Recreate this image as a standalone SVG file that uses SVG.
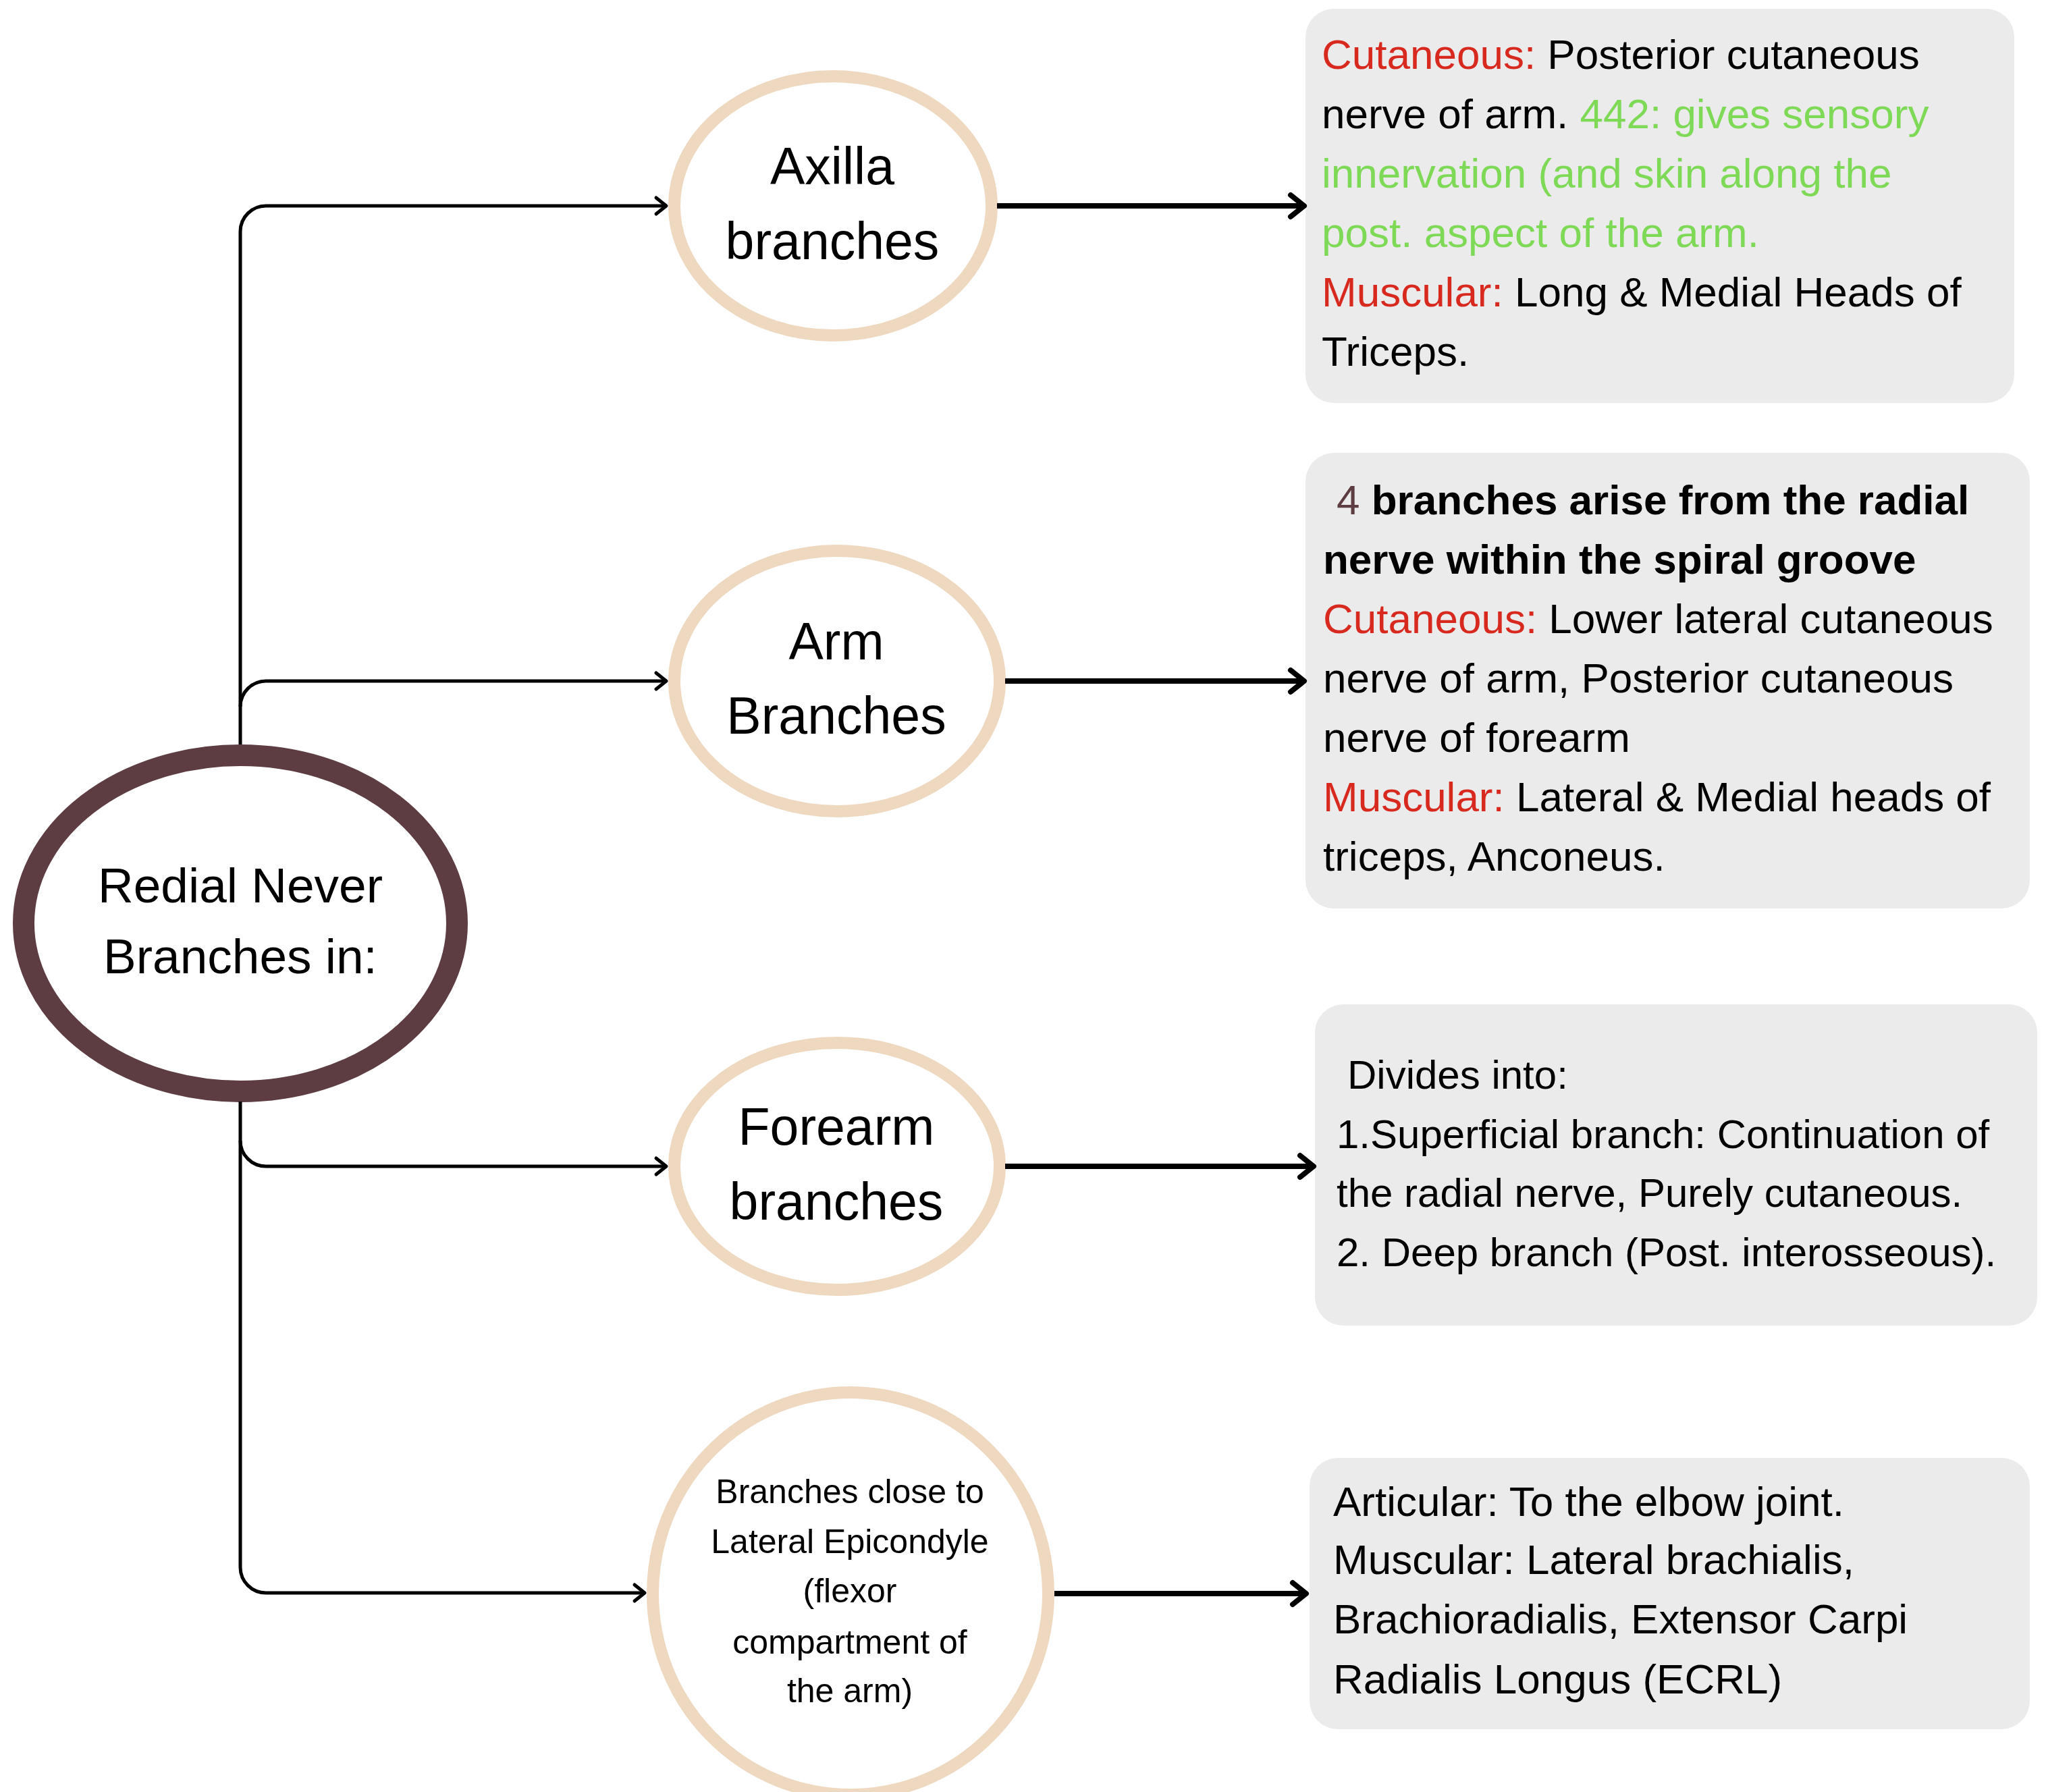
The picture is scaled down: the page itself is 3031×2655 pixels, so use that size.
<svg xmlns="http://www.w3.org/2000/svg" width="3031" height="2655" viewBox="0 0 3031 2655">
<style>
.t{font-family:"Liberation Sans",Arial,sans-serif;fill:#000}
.node{font-size:77px}
.box{font-size:62px}
.red{fill:#D8291F}
.grn{fill:#7ED957}
.brn{fill:#5D3D42}
.b{font-weight:bold}
.ring{fill:#fff;stroke:#EFD8C0;stroke-width:18}
.card{fill:#EBEBEB}
.thin{fill:none;stroke:#000;stroke-width:5}
.thick{fill:none;stroke:#000;stroke-width:8}
</style>
<defs>
<marker id="arrS" markerUnits="userSpaceOnUse" viewBox="-24 -20 30 40" refX="0" refY="0" markerWidth="30" markerHeight="40" orient="auto" overflow="visible">
<path d="M-15,-12 L0,0 L-15,12" fill="none" stroke="#000" stroke-width="5" stroke-linecap="round" stroke-linejoin="round"/>
</marker>
<marker id="arrL" markerUnits="userSpaceOnUse" viewBox="-30 -24 36 48" refX="0" refY="0" markerWidth="36" markerHeight="48" orient="auto" overflow="visible">
<path d="M-20,-16 L0,0 L-20,16" fill="none" stroke="#000" stroke-width="8" stroke-linecap="round" stroke-linejoin="round"/>
</marker>
</defs>
<rect width="3031" height="2655" fill="#fff"/>

<g id="node-root">
<ellipse cx="356" cy="1368" rx="321" ry="249" fill="#fff" stroke="#5D3D42" stroke-width="32"/>
<text class="t" font-size="73" text-anchor="middle"><tspan x="356" y="1337">Redial Never</tspan><tspan x="356" y="1442">Branches in:</tspan></text>
</g>

<g id="node-axilla">
<ellipse class="ring" cx="1234" cy="305" rx="235" ry="192"/>
<text class="t node" text-anchor="middle"><tspan x="1233" y="273">Axilla</tspan><tspan x="1233" y="384">branches</tspan></text>
</g>

<g id="node-arm">
<ellipse class="ring" cx="1240" cy="1009" rx="241" ry="193"/>
<text class="t node" text-anchor="middle"><tspan x="1239" y="977">Arm</tspan><tspan x="1239" y="1087">Branches</tspan></text>
</g>

<g id="node-forearm">
<ellipse class="ring" cx="1240" cy="1728" rx="241" ry="183"/>
<text class="t node" text-anchor="middle"><tspan x="1239" y="1696">Forearm</tspan><tspan x="1239" y="1807">branches</tspan></text>
</g>

<g id="node-epicondyle">
<ellipse class="ring" cx="1260" cy="2361" rx="293" ry="298"/>
<text class="t" font-size="50" text-anchor="middle"><tspan x="1259" y="2227">Branches close to</tspan><tspan x="1259" y="2301">Lateral Epicondyle</tspan><tspan x="1259" y="2374">(flexor</tspan><tspan x="1259" y="2450">compartment of</tspan><tspan x="1259" y="2522">the arm)</tspan></text>
</g>

<g id="box-axilla">
<rect class="card" x="1934" y="13" width="1050" height="584" rx="42"/>
<text class="t box"><tspan x="1958" y="102"><tspan class="red">Cutaneous:</tspan> Posterior cutaneous</tspan><tspan x="1958" y="190">nerve of arm. <tspan class="grn">442: gives sensory</tspan></tspan><tspan class="grn" x="1958" y="278">innervation (and skin along the</tspan><tspan class="grn" x="1958" y="366">post. aspect of the arm.</tspan><tspan x="1958" y="454"><tspan class="red">Muscular:</tspan> Long &amp; Medial Heads of</tspan><tspan x="1958" y="542">Triceps.</tspan></text>
</g>

<g id="box-arm">
<rect class="card" x="1934" y="671" width="1073" height="675" rx="42"/>
<text class="t box"><tspan class="brn" x="1980" y="762">4</tspan><tspan class="b"> branches arise from the radial</tspan><tspan class="b" x="1960" y="850">nerve within the spiral groove</tspan><tspan x="1960" y="938"><tspan class="red">Cutaneous:</tspan> Lower lateral cutaneous</tspan><tspan x="1960" y="1026">nerve of arm, Posterior cutaneous</tspan><tspan x="1960" y="1114">nerve of forearm</tspan><tspan x="1960" y="1202"><tspan class="red">Muscular:</tspan> Lateral &amp; Medial heads of</tspan><tspan x="1960" y="1290">triceps, Anconeus.</tspan></text>
</g>

<g id="box-forearm">
<rect class="card" x="1948" y="1488" width="1070" height="476" rx="42"/>
<text class="t" font-size="60"><tspan x="1996" y="1613">Divides into:</tspan><tspan x="1980" y="1701">1.Superficial branch: Continuation of</tspan><tspan x="1980" y="1788">the radial nerve, Purely cutaneous.</tspan><tspan x="1980" y="1876">2. Deep branch (Post. interosseous).</tspan></text>
</g>

<g id="box-epicondyle">
<rect class="card" x="1940" y="2160" width="1067" height="402" rx="42"/>
<text class="t box"><tspan x="1975" y="2246">Articular: To the elbow joint.</tspan><tspan x="1975" y="2332">Muscular: Lateral brachialis,</tspan><tspan x="1975" y="2420">Brachioradialis, Extensor Carpi</tspan><tspan x="1975" y="2509">Radialis Longus (ECRL)</tspan></text>
</g>

<g id="connectors">
<path class="thin" d="M356,1103 V343 A38,38 0 0 1 394,305 H987" marker-end="url(#arrS)"/>
<path class="thin" d="M356,1047 A38,38 0 0 1 394,1009 H987" marker-end="url(#arrS)"/>
<path class="thin" d="M356,1690 A38,38 0 0 0 394,1728 H987" marker-end="url(#arrS)"/>
<path class="thin" d="M356,1632 V2322 A38,38 0 0 0 394,2360 H955" marker-end="url(#arrS)"/>
<path class="thick" d="M1477,305 H1932" marker-end="url(#arrL)"/>
<path class="thick" d="M1489,1009 H1932" marker-end="url(#arrL)"/>
<path class="thick" d="M1489,1728 H1946" marker-end="url(#arrL)"/>
<path class="thick" d="M1562,2361 H1935" marker-end="url(#arrL)"/>
</g>
</svg>
